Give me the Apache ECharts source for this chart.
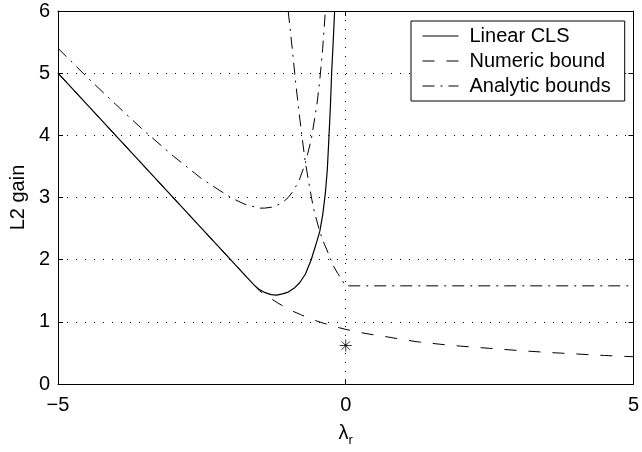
<!DOCTYPE html>
<html><head><meta charset="utf-8">
<script src="https://cdn.jsdelivr.net/npm/echarts@6/dist/echarts.min.js"></script>
<style>html,body{margin:0;padding:0;background:#fff}#c{width:642px;height:452px}</style>
</head><body><div id="c"></div>
<script>
// Tick values / labels
const xTickValues = [-5, 0, 5];
const xTickLabels = ['\u22125', '0', '5'];
const yTickValues = [0, 1, 2, 3, 4, 5, 6];
const yTickLabels = ['0', '1', '2', '3', '4', '5', '6'];

// Linear CLS (solid)
const clsX = [-5, -1.7, -1.6, -1.5, -1.4, -1.3, -1.2, -1.1, -1.0, -0.9, -0.8, -0.7, -0.6, -0.5, -0.45, -0.4, -0.354, -0.32, -0.29, -0.265, -0.245, -0.218, -0.193];
const clsY = [5, 1.7, 1.6, 1.52, 1.47, 1.44, 1.43, 1.45, 1.48, 1.54, 1.63, 1.77, 2.0, 2.3, 2.46, 2.72, 3.07, 3.45, 4.0, 4.5, 5.0, 5.5, 6.0];

// Numeric bound (dashed)
const numX = [-5, -1.6, -1.5, -1.36, -1.19, -0.99, -0.79, -0.59, -0.39, -0.17, 0, 0.25, 0.5, 0.75, 1, 1.25, 1.5, 1.75, 2, 2.5, 3, 3.5, 4, 4.5, 5];
const numY = [5, 1.6, 1.5, 1.41, 1.31, 1.20, 1.12, 1.04, 0.98, 0.92, 0.88, 0.83, 0.79, 0.755, 0.715, 0.68, 0.655, 0.63, 0.61, 0.575, 0.54, 0.51, 0.485, 0.46, 0.44];

// Analytic bounds (dash-dot), U-shaped branch
const anaUX = [-5, -4.5, -4, -3.5, -3, -2.5, -2, -1.75, -1.5, -1.41, -1.25, -1.1, -1, -0.9, -0.8, -0.7, -0.6, -0.5, -0.45, -0.4, -0.36, -0.345];
const anaUY = [5.4, 4.94, 4.5, 4.07, 3.67, 3.3, 3.0, 2.89, 2.83, 2.83, 2.85, 2.92, 3.0, 3.12, 3.3, 3.56, 3.93, 4.5, 4.9, 5.4, 5.92, 6.15];

// Analytic bounds (dash-dot), descending branch + plateau
const anaAX = [-1.0, -0.93, -0.87, -0.82, -0.77, -0.71, -0.65, -0.59, -0.54, -0.45, -0.38, -0.31, -0.22, -0.14, -0.07, 0, 5];
const anaAY = [6.0, 5.4, 4.85, 4.44, 4.05, 3.62, 3.28, 2.97, 2.75, 2.45, 2.27, 2.12, 1.91, 1.78, 1.68, 1.58, 1.58];

// Single marked point (asterisk)
const starX = [0];
const starY = [0.62];

const zip = (a, b) => a.map((v, i) => [v, b[i]]);
const FONT = 'Liberation Sans, Arial, Helvetica, sans-serif';
const dashed = [12, 12];
const dashDot = [12, 6, 2, 6];

const chart = echarts.init(document.getElementById('c'), null, {renderer: 'canvas'});
const xLab = v => { const i = xTickValues.indexOf(v); return i >= 0 ? xTickLabels[i] : ''; };
const yLab = v => { const i = yTickValues.indexOf(v); return i >= 0 ? yTickLabels[i] : ''; };

const baseX = {
  type: 'value', min: -5, max: 5, interval: 5,
  axisLine: {show: true, onZero: false, lineStyle: {color: '#000', width: 1}},
  axisTick: {show: true, inside: true, length: 5, lineStyle: {color: '#000'}},
  splitLine: {show: false}
};
const baseY = {
  type: 'value', min: 0, max: 6, interval: 1,
  axisLine: {show: true, onZero: false, lineStyle: {color: '#000', width: 1}},
  axisTick: {show: true, inside: true, length: 5, lineStyle: {color: '#000'}},
  splitLine: {show: false}
};

const hideSym = {opacity: 0, color: '#000', borderWidth: 0};

chart.setOption({
  animation: false,
  backgroundColor: '#fff',
  grid: {left: 56, right: 2, top: 11, bottom: 61},
  xAxis: [
    Object.assign({}, baseX, {
      position: 'bottom',
      axisLabel: {fontSize: 20, color: '#000', fontFamily: FONT, margin: 11, formatter: xLab},
      splitLine: {show: true, lineStyle: {color: '#000', type: [1, 8], width: 1}},
      name: '{a|\u03bb}{b|r}', nameLocation: 'middle', nameGap: 21,
      nameTextStyle: {
        rich: {
          a: {fontSize: 20, color: '#000', fontFamily: FONT, lineHeight: 22},
          b: {fontSize: 13, color: '#000', fontFamily: FONT, lineHeight: 22, padding: [14, 0, 0, 0]}
        }
      }
    }),
    Object.assign({}, baseX, {position: 'top', axisLabel: {show: false}})
  ],
  yAxis: [
    Object.assign({}, baseY, {
      position: 'left',
      axisLabel: {fontSize: 20, color: '#000', fontFamily: FONT, margin: 8, formatter: yLab},
      splitLine: {show: true, lineStyle: {color: '#000', type: [1, 8], width: 1}},
      name: 'L2 gain', nameLocation: 'middle', nameGap: 28,
      nameTextStyle: {fontSize: 20, color: '#000', fontFamily: FONT}
    }),
    Object.assign({}, baseY, {position: 'right', axisLabel: {show: false}})
  ],
  legend: {
    data: [
      {name: 'Linear CLS', itemStyle: hideSym, lineStyle: {color: '#000', width: 1, type: 'solid'}},
      {name: 'Numeric bound', itemStyle: hideSym, lineStyle: {color: '#000', width: 1, type: dashed}},
      {name: 'Analytic bounds', itemStyle: hideSym, lineStyle: {color: '#000', width: 1, type: dashDot}}
    ],
    orient: 'vertical', left: 411, top: 21,
    backgroundColor: '#fff', borderColor: '#000', borderWidth: 1, borderRadius: 0,
    padding: [5, 14, 5, 11],
    itemWidth: 36, itemHeight: 14, itemGap: 5,
    selectedMode: false,
    textStyle: {fontSize: 20, color: '#000', fontFamily: FONT, padding: [0, 0, 0, 6]}
  },
  series: [
    {name: 'Numeric bound', type: 'line', data: zip(numX, numY), symbol: 'none',
     lineStyle: {color: '#000', width: 1, type: dashed}, itemStyle: {color: '#000'}},
    {name: 'Analytic bounds', type: 'line', data: zip(anaUX, anaUY), symbol: 'none',
     lineStyle: {color: '#000', width: 1, type: dashDot}, itemStyle: {color: '#000'}},
    {name: 'Analytic bounds', type: 'line', data: zip(anaAX, anaAY), symbol: 'none',
     lineStyle: {color: '#000', width: 1, type: dashDot}, itemStyle: {color: '#000'}},
    {name: 'Linear CLS', type: 'line', data: zip(clsX, clsY), symbol: 'none',
     lineStyle: {color: '#000', width: 1.2, type: 'solid'}, itemStyle: {color: '#000'}},
    {name: 'star', type: 'scatter', data: zip(starX, starY),
     symbol: 'path://M0,-10L0,10M-10,0L10,0M-7.07,-7.07L7.07,7.07M-7.07,7.07L7.07,-7.07',
     symbolSize: 12, itemStyle: {color: 'none', borderColor: '#000', borderWidth: 1}}
  ]
});
</script>
</body></html>
